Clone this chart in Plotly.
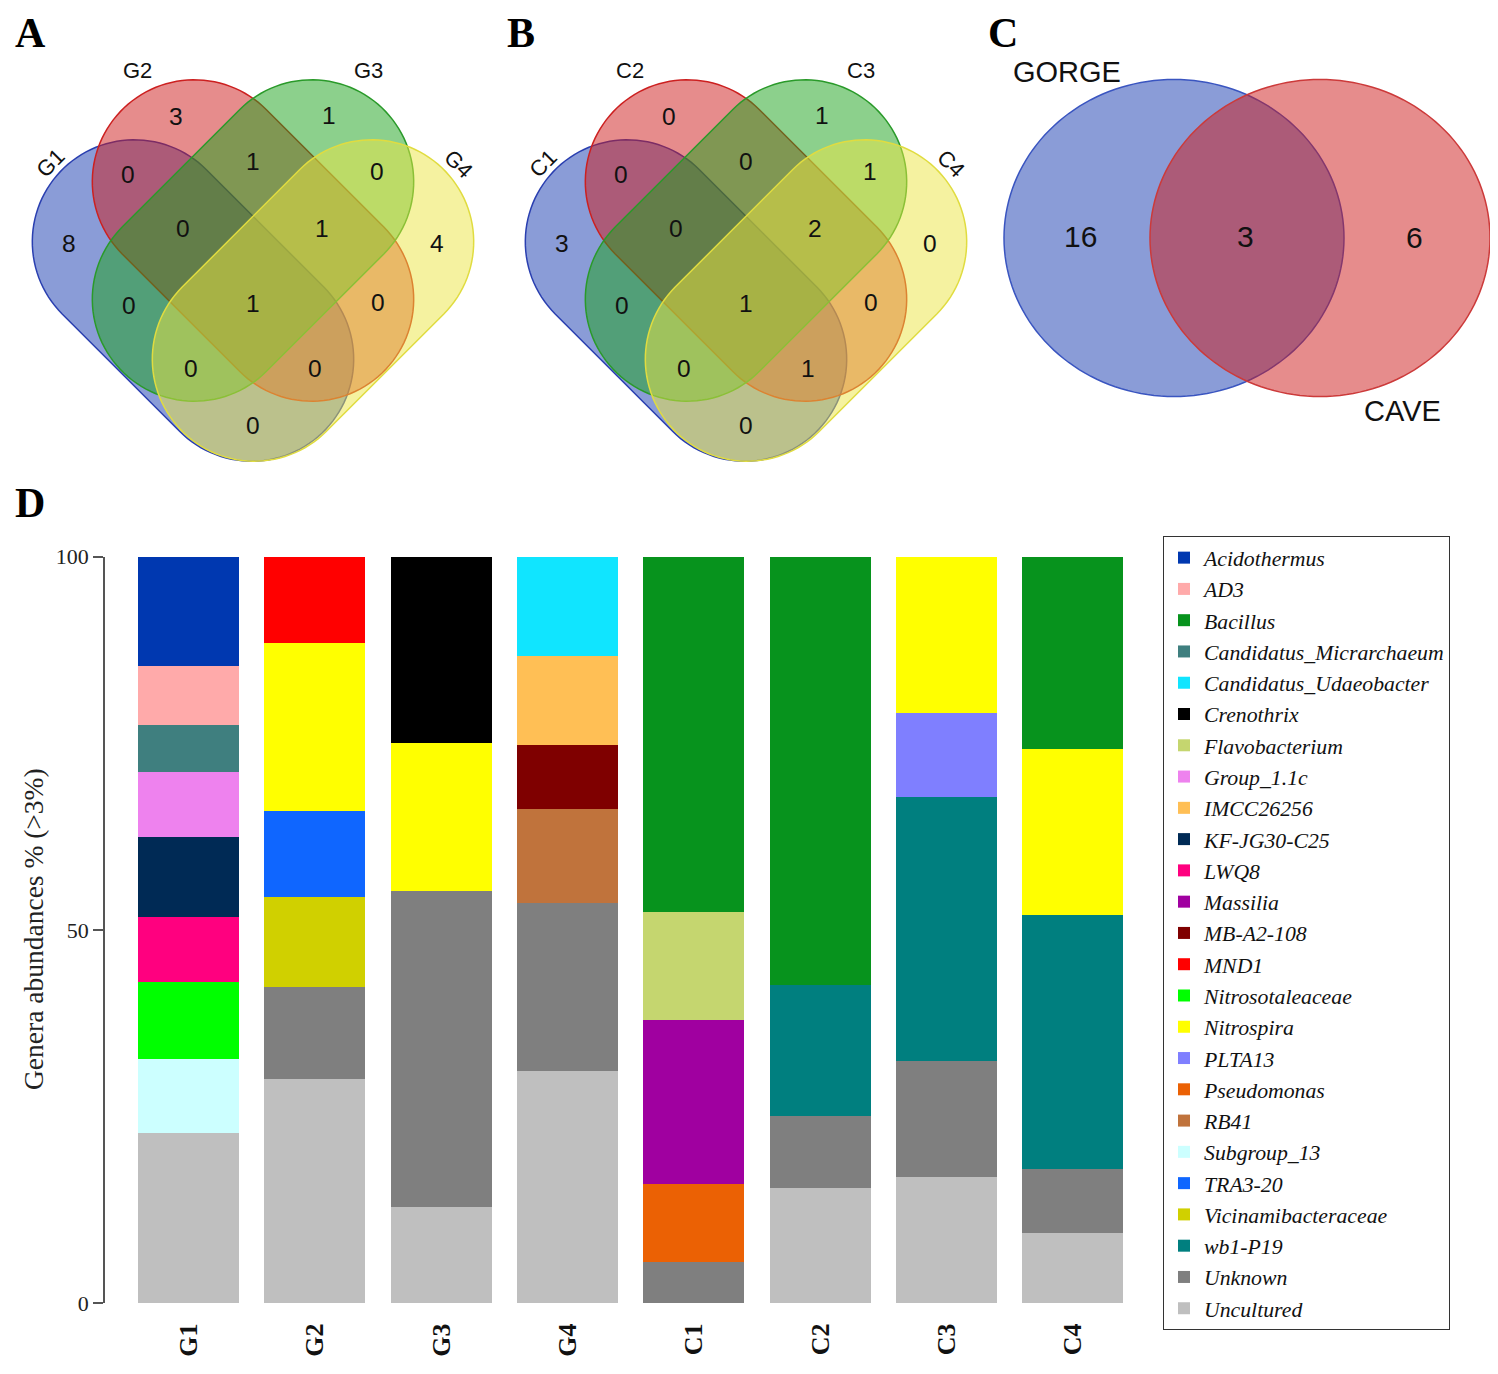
import numpy as np
import plotly.graph_objects as go

# target canvas (pixels of the picture) and the page offset of the plot div
W, H = 1498, 1374
OFF = 8
FW, FH = W - OFF, H - OFF

# ---------------- Panel D data (relative abundance, %) ----------------
samples = ["G1", "G2", "G3", "G4", "C1", "C2", "C3", "C4"]

acidothermus = [14.5, 0, 0, 0, 0, 0, 0, 0]
ad3 = [8.0, 0, 0, 0, 0, 0, 0, 0]
bacillus = [0, 0, 0, 0, 47.5, 57.3, 0, 25.7]
cand_micrarchaeum = [6.2, 0, 0, 0, 0, 0, 0, 0]
cand_udaeobacter = [0, 0, 0, 13.2, 0, 0, 0, 0]
crenothrix = [0, 0, 24.9, 0, 0, 0, 0, 0]
flavobacterium = [0, 0, 0, 0, 14.5, 0, 0, 0]
group_1_1c = [8.7, 0, 0, 0, 0, 0, 0, 0]
imcc26256 = [0, 0, 0, 11.9, 0, 0, 0, 0]
kf_jg30_c25 = [10.8, 0, 0, 0, 0, 0, 0, 0]
lwq8 = [8.6, 0, 0, 0, 0, 0, 0, 0]
massilia = [0, 0, 0, 0, 21.9, 0, 0, 0]
mb_a2_108 = [0, 0, 0, 8.6, 0, 0, 0, 0]
mnd1 = [0, 11.4, 0, 0, 0, 0, 0, 0]
nitrosotaleaceae = [10.4, 0, 0, 0, 0, 0, 0, 0]
nitrospira = [0, 22.6, 19.9, 0, 0, 0, 20.9, 22.3]
plta13 = [0, 0, 0, 0, 0, 0, 11.3, 0]
pseudomonas = [0, 0, 0, 0, 10.5, 0, 0, 0]
rb41 = [0, 0, 0, 12.6, 0, 0, 0, 0]
subgroup_13 = [9.9, 0, 0, 0, 0, 0, 0, 0]
tra3_20 = [0, 11.5, 0, 0, 0, 0, 0, 0]
vicinamibacteraceae = [0, 12.0, 0, 0, 0, 0, 0, 0]
wb1_p19 = [0, 0, 0, 0, 0, 17.6, 35.4, 34.0]
unknown = [0, 12.3, 42.3, 22.5, 5.5, 9.6, 15.5, 8.6]
uncultured = [22.8, 30.1, 12.9, 31.1, 0, 15.5, 16.9, 9.4]

genus_names = ["Acidothermus", "AD3", "Bacillus", "Candidatus_Micrarchaeum",
               "Candidatus_Udaeobacter", "Crenothrix", "Flavobacterium", "Group_1.1c",
               "IMCC26256", "KF-JG30-C25", "LWQ8", "Massilia", "MB-A2-108", "MND1",
               "Nitrosotaleaceae", "Nitrospira", "PLTA13", "Pseudomonas", "RB41",
               "Subgroup_13", "TRA3-20", "Vicinamibacteraceae", "wb1-P19", "Unknown",
               "Uncultured"]
genus_values = [acidothermus, ad3, bacillus, cand_micrarchaeum, cand_udaeobacter,
                crenothrix, flavobacterium, group_1_1c, imcc26256, kf_jg30_c25, lwq8,
                massilia, mb_a2_108, mnd1, nitrosotaleaceae, nitrospira, plta13,
                pseudomonas, rb41, subgroup_13, tra3_20, vicinamibacteraceae, wb1_p19,
                unknown, uncultured]
genus_colors = ["#0038B0", "#FFAAAA", "#07931D", "#3F7F7F", "#10E5FF", "#000000",
                "#C5D66F", "#EE82EE", "#FFBF55", "#002A55", "#FF007F", "#A000A0",
                "#7F0000", "#FF0000", "#00FF00", "#FFFF00", "#7F7FFF", "#EB6104",
                "#C0733C", "#CCFFFF", "#0F66FF", "#D0D000", "#007F7F", "#7F7F7F",
                "#BFBFBF"]
y_ticks = [0, 50, 100]

# ---------------- Venn data ----------------
venn_regions = ["1", "2", "3", "4", "12", "23", "34", "123", "234", "13", "1234",
                "24", "134", "124", "14"]
venn_a_sets = ["G1", "G2", "G3", "G4"]
venn_a_counts = [8, 3, 1, 4, 0, 1, 0, 0, 1, 0, 1, 0, 0, 0, 0]
venn_b_sets = ["C1", "C2", "C3", "C4"]
venn_b_counts = [3, 0, 1, 0, 0, 0, 1, 0, 2, 0, 1, 0, 0, 1, 0]
venn_c_sets = ["GORGE", "CAVE"]
venn_c_counts = [16, 3, 6]   # GORGE only, shared, CAVE only


# ---------------- layout helpers (picture pixel -> paper) ----------------
def px(x):
    return (x - OFF) / FW


def py(y):
    return 1 - (y - OFF) / FH


def path_from(xs, ys):
    pts = [f"{px(x):.6f},{py(y):.6f}" for x, y in zip(xs, ys)]
    return "M" + " L".join(pts) + " Z"


def ellipse_path(cx, cy, a, b, n=160):
    t = np.linspace(0, 2 * np.pi, n, endpoint=False)
    return path_from(cx + a * np.cos(t), cy + b * np.sin(t))


def capsule_path(cx, cy, half_len, r, ang_deg, n=60):
    th = np.radians(ang_deg)
    d = np.array([np.cos(th), np.sin(th)])
    e1 = np.array([cx, cy]) - half_len * d
    e2 = np.array([cx, cy]) + half_len * d
    a1 = np.linspace(th + np.pi / 2, th + 3 * np.pi / 2, n)
    a2 = np.linspace(th + 3 * np.pi / 2, th + 5 * np.pi / 2, n)
    xs = np.concatenate([e1[0] + r * np.cos(a1), e2[0] + r * np.cos(a2)])
    ys = np.concatenate([e1[1] + r * np.sin(a1), e2[1] + r * np.sin(a2)])
    return path_from(xs, ys)


shapes = []
annotations = []


def add_text(x, y, text, size, family="Liberation Sans", angle=0, color="#111",
             yanchor="middle"):
    annotations.append(dict(x=px(x), y=py(y), xref="paper", yref="paper", text=text,
                            showarrow=False, textangle=angle, xanchor="center",
                            yanchor=yanchor,
                            font=dict(family=family, size=size, color=color)))


venn_fill = ["rgba(22,58,176,0.5)", "rgba(206,26,26,0.5)",
             "rgba(26,162,26,0.5)", "rgba(236,230,66,0.5)"]
venn_line = ["#2a3fb0", "#cc2020", "#2a9a2a", "#e0dc40"]

# capsule geometry relative to the centre of the two middle shapes
cap_off = [(-60, 60, 45), (0, 0, 45), (0, 0, 135), (60, 60, 135)]
cap_half, cap_r = 83, 102
region_pos = {"1": (-184, 3), "2": (-77, -124), "3": (76, -125), "4": (184, 3),
              "12": (-125, -66), "23": (0, -79), "34": (124, -69),
              "123": (-70, -12), "234": (69, -12), "13": (-124, 65),
              "1234": (0, 63), "24": (125, 62), "134": (-62, 128),
              "124": (62, 128), "14": (0, 185)}
label_pos = [(-203, -77, -45), (-116, -170, 0), (115, -170, 0), (205, -77, 45)]


def draw_venn4(cx, cy, set_names, counts):
    for (dx, dy, ang), fc, lc in zip(cap_off, venn_fill, venn_line):
        shapes.append(dict(type="path", xref="paper", yref="paper",
                           path=capsule_path(cx + dx, cy + dy, cap_half, cap_r, ang),
                           fillcolor=fc, line=dict(color=lc, width=1.5)))
    for reg, c in zip(venn_regions, counts):
        dx, dy = region_pos[reg]
        add_text(cx + dx, cy + dy, str(c), 24.5)
    for (dx, dy, ang), name in zip(label_pos, set_names):
        add_text(cx + dx, cy + dy, name, 22, angle=ang)


draw_venn4(253, 240.5, venn_a_sets, venn_a_counts)
draw_venn4(746, 240.5, venn_b_sets, venn_b_counts)

# Panel C: two-set Venn
shapes.append(dict(type="path", xref="paper", yref="paper",
                   path=ellipse_path(1174, 238, 170, 158.5),
                   fillcolor="rgba(22,58,176,0.5)", line=dict(color="#3a55c0", width=1.5)))
shapes.append(dict(type="path", xref="paper", yref="paper",
                   path=ellipse_path(1320, 238, 170, 158.5),
                   fillcolor="rgba(206,26,26,0.5)", line=dict(color="#cc3a3a", width=1.5)))
add_text(1067, 72, venn_c_sets[0], 29)
add_text(1402, 411, venn_c_sets[1], 29)
add_text(1080, 236, str(venn_c_counts[0]), 30)
add_text(1245, 236, str(venn_c_counts[1]), 30)
add_text(1414, 237, str(venn_c_counts[2]), 30)

# panel letters (top row anchored at the top edge so they stay fully visible)
for lx, letter in [(30, "A"), (521, "B"), (1003, "C")]:
    add_text(lx, OFF, f"<b>{letter}</b>", 42, family="Liberation Serif", color="#000",
             yanchor="top")
add_text(30, 503, "<b>D</b>", 42, family="Liberation Serif", color="#000")

# y-axis title of panel D
add_text(33, 929, "Genera abundances % (>3%)", 27.5, family="Liberation Serif",
         angle=-90, color="#222")

# ---------------- figure ----------------
fig = go.Figure()
for name, vals, col in reversed(list(zip(genus_names, genus_values, genus_colors))):
    fig.add_trace(go.Bar(x=list(range(len(samples))), y=vals, name=name,
                         marker=dict(color=col, line=dict(width=0))))

fig.update_layout(
    width=FW, height=FH, autosize=False,
    margin=dict(l=0, r=0, t=0, b=0, autoexpand=False),
    paper_bgcolor="white", plot_bgcolor="white",
    barmode="stack", bargap=0.2,
    shapes=shapes, annotations=annotations,
    showlegend=True,
    legend=dict(x=px(1163), y=py(536), xanchor="left", yanchor="top",
                traceorder="reversed", bordercolor="#333", borderwidth=1,
                bgcolor="white",
                font=dict(family="Liberation Serif", size=21.75, style="italic",
                          color="#111")),
    xaxis=dict(domain=[px(105), px(1136)], range=[-0.66, 7.5],
               tickmode="array", tickvals=list(range(len(samples))), ticktext=samples,
               tickangle=-90, showline=False, ticks="", showgrid=False, zeroline=False,
               ticklabelstandoff=14,
               tickfont=dict(family="Liberation Serif", size=26, weight="bold",
                             color="#111")),
    yaxis=dict(domain=[py(1303.3), py(556.7)], range=[0, 100],
               tickmode="array", tickvals=y_ticks,
               showline=True, linecolor="#555", linewidth=1.5,
               ticks="outside", ticklen=10, tickcolor="#555", tickwidth=1.5,
               showgrid=False, zeroline=False,
               tickfont=dict(family="Liberation Serif", size=22, color="#222")),
)

fig.write_html("out.html")
